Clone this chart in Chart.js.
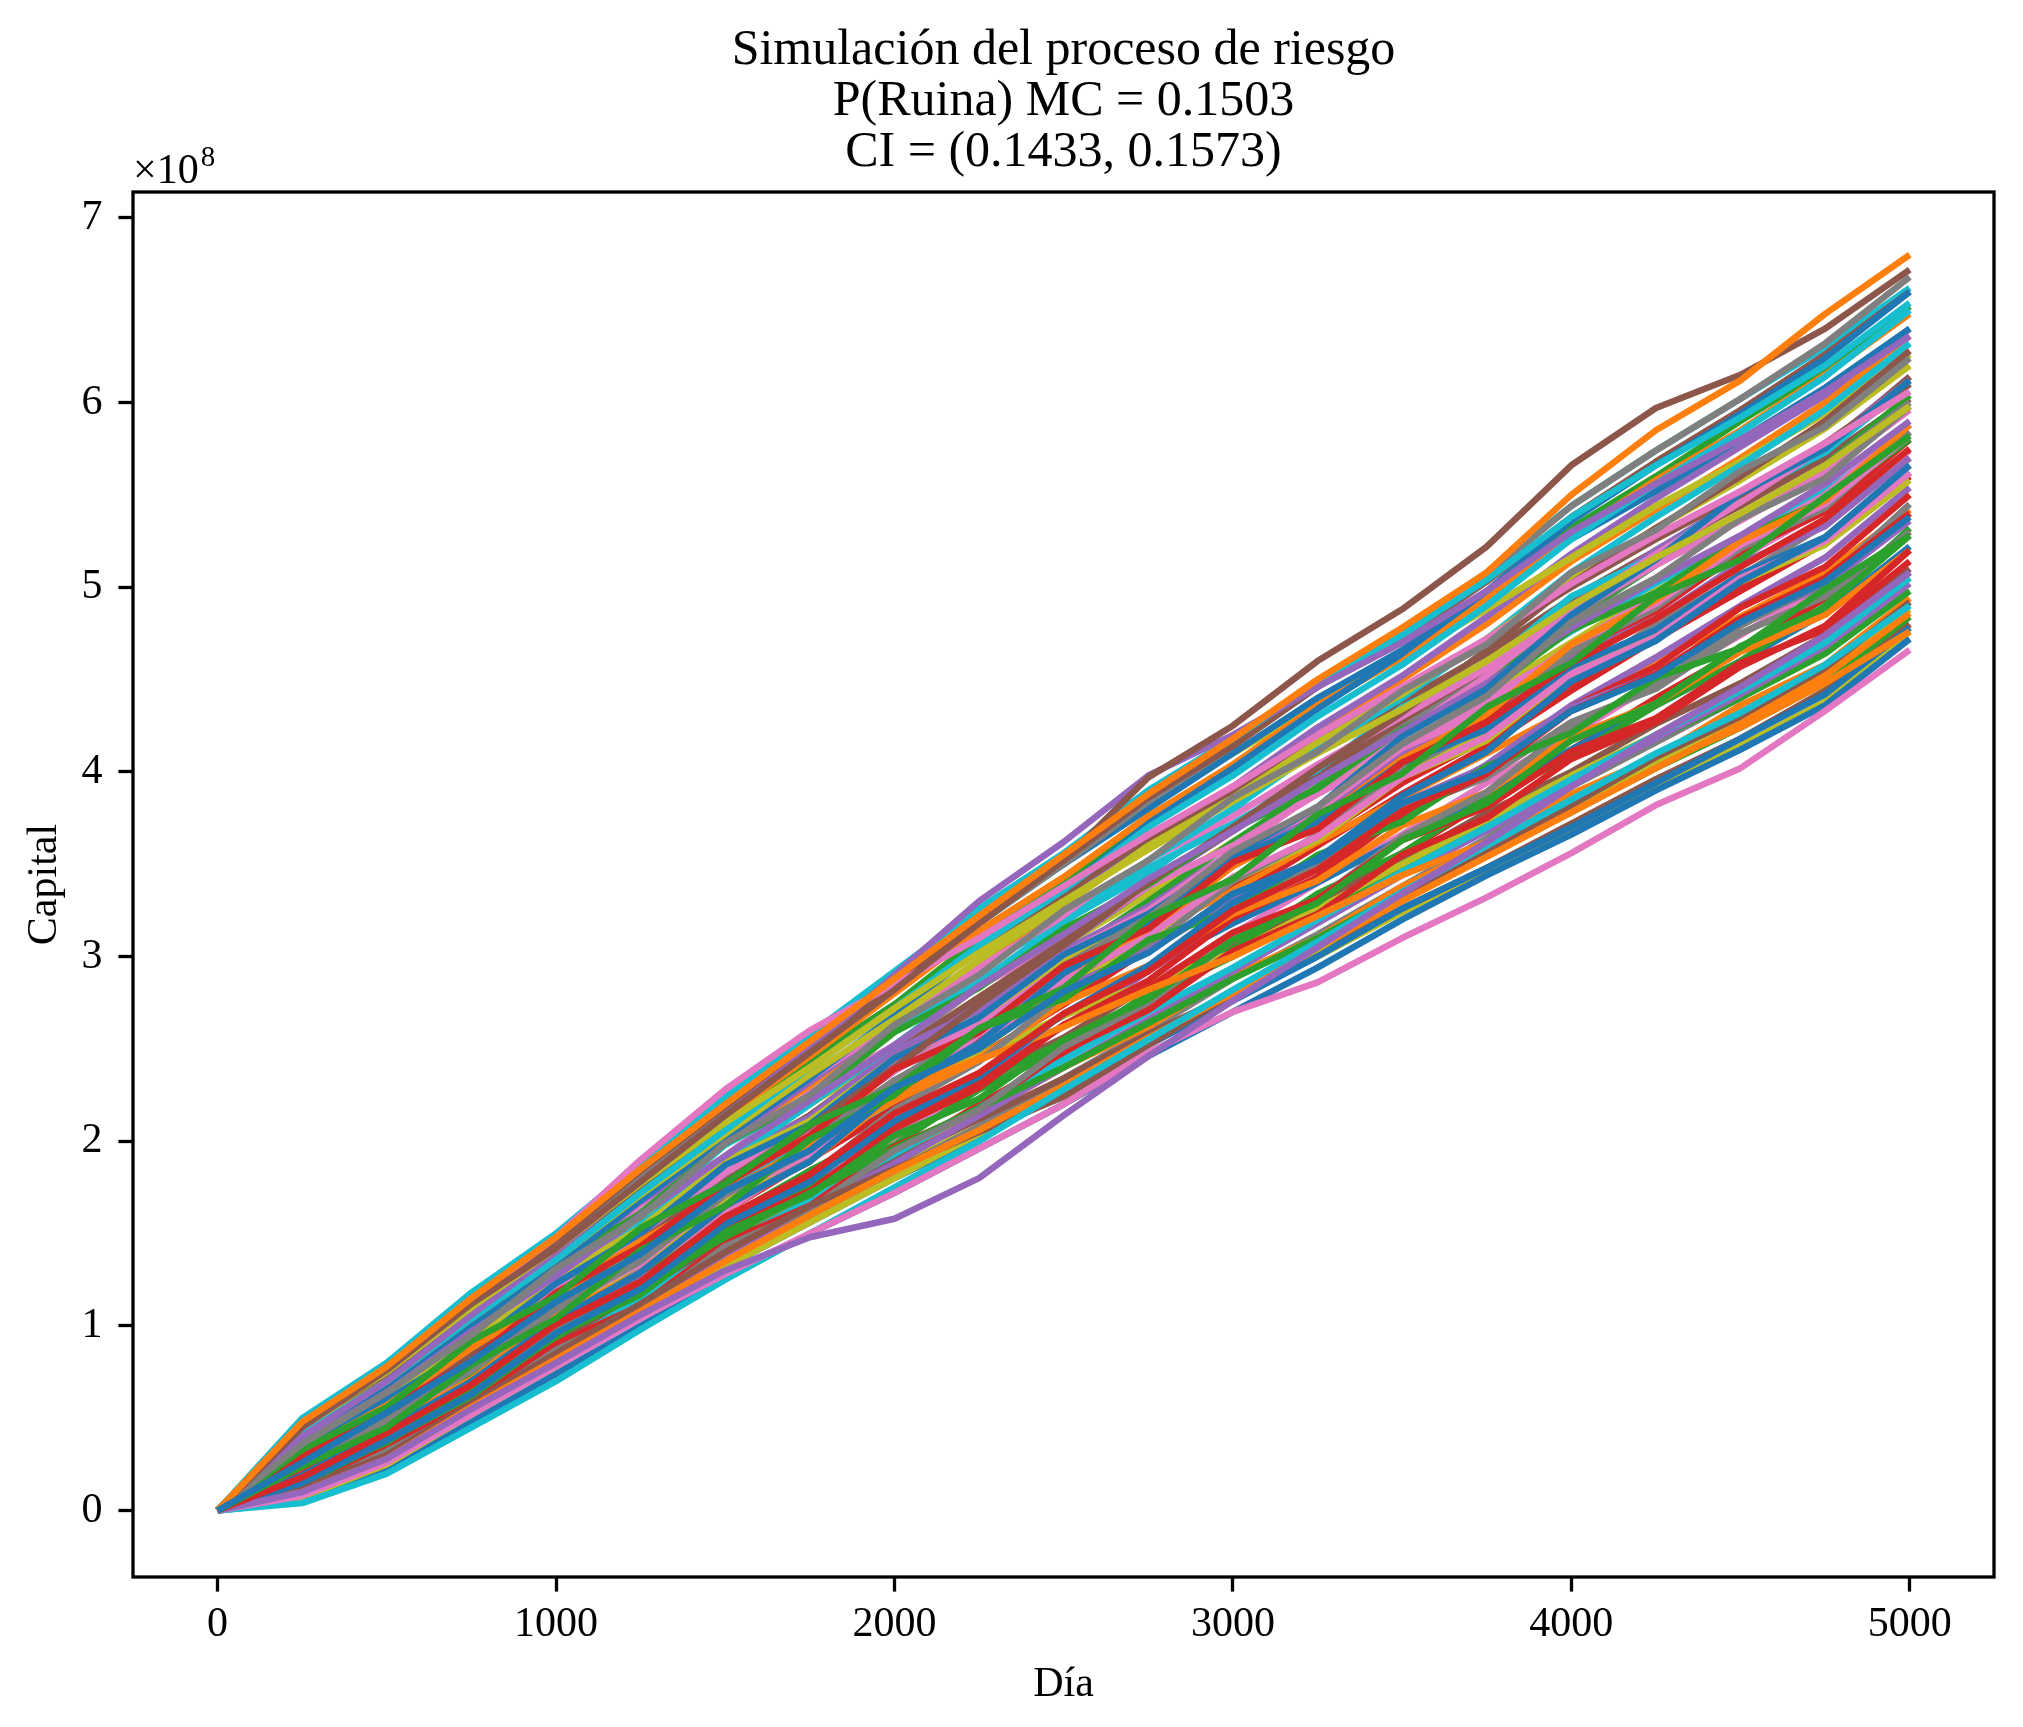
<!DOCTYPE html>
<html>
<head>
<meta charset="utf-8">
<script src="https://cdn.jsdelivr.net/npm/chart.js@4.4.1/dist/chart.umd.min.js"></script>
<style>
  html, body { margin: 0; padding: 0; background: #fff; }
  #chart { display: block; }
</style>
</head>
<body>
<canvas id="chart" width="2023" height="1727"></canvas>
<script>
// simulated capital paths, every 250 days (values in millions)
const days = [0, 250, 500, 750, 1000, 1250, 1500, 1750, 2000, 2250, 2500,
  2750, 3000, 3250, 3500, 3750, 4000, 4250, 4500, 4750, 5000];

const paths = [
  [0, 26, 53, 81, 113, 139, 173, 195, 229, 250, 281, 302, 334, 352, 383, 401, 433, 452, 481, 503, 538],
  [0, 48, 78, 115, 148, 185, 220, 254, 288, 322, 355, 388, 418, 450, 478, 508, 550, 585, 612, 648, 680],
  [0, 24, 45, 79, 104, 141, 165, 201, 225, 261, 283, 321, 342, 377, 399, 435, 459, 495, 515, 549, 582],
  [0, 18, 42, 68, 101, 124, 159, 182, 215, 237, 269, 292, 325, 347, 379, 399, 433, 453, 483, 505, 540],
  [0, 10, 28, 55, 80, 106, 130, 148, 158, 180, 214, 246, 276, 305, 334, 362, 392, 420, 446, 474, 508],
  [0, 45, 76, 112, 142, 178, 214, 248, 282, 318, 352, 397, 425, 460, 488, 522, 566, 597, 615, 640, 672],
  [0, 8, 26, 52, 78, 104, 128, 150, 172, 196, 220, 248, 270, 286, 310, 332, 356, 382, 402, 433, 466],
  [0, 36, 64, 95, 131, 159, 199, 225, 263, 290, 325, 352, 386, 411, 444, 469, 508, 531, 563, 587, 624],
  [0, 46, 75, 110, 142, 177, 210, 240, 272, 302, 330, 358, 384, 410, 434, 460, 490, 516, 540, 566, 598],
  [0, 4, 20, 45, 70, 98, 125, 150, 175, 200, 228, 255, 282, 308, 335, 360, 385, 410, 432, 458, 490],
  [0, 15, 38, 63, 96, 120, 155, 178, 211, 235, 269, 295, 329, 353, 387, 411, 449, 471, 503, 527, 566],
  [0, 10, 28, 56, 82, 108, 135, 160, 184, 206, 230, 256, 280, 305, 330, 354, 378, 402, 426, 452, 486],
  [0, 33, 56, 92, 116, 153, 177, 209, 229, 261, 277, 309, 325, 355, 373, 403, 421, 451, 467, 499, 528],
  [0, 29, 55, 81, 118, 143, 177, 203, 239, 259, 295, 315, 351, 369, 405, 427, 459, 483, 511, 537, 575],
  [0, 40, 70, 106, 140, 178, 214, 250, 290, 330, 362, 398, 420, 446, 470, 498, 530, 556, 580, 606, 636],
  [0, 12, 30, 58, 85, 112, 140, 165, 185, 205, 224, 252, 280, 305, 332, 356, 382, 408, 430, 456, 492],
  [0, 45, 76, 114, 148, 190, 228, 260, 285, 310, 338, 366, 392, 420, 446, 472, 502, 528, 552, 578, 606],
  [0, 24, 49, 76, 109, 135, 171, 195, 233, 259, 295, 321, 357, 381, 415, 441, 481, 505, 537, 559, 598],
  [0, 7, 25, 52, 78, 105, 132, 156, 180, 204, 228, 254, 280, 304, 332, 356, 382, 405, 428, 455, 488],
  [0, 41, 70, 104, 136, 172, 206, 240, 272, 306, 336, 370, 398, 430, 458, 490, 526, 556, 584, 614, 650],
  [0, 19, 44, 70, 103, 129, 165, 189, 227, 253, 291, 317, 355, 381, 419, 445, 485, 515, 551, 575, 612],
  [0, 32, 57, 88, 116, 146, 172, 198, 222, 244, 262, 282, 300, 322, 344, 362, 384, 404, 424, 448, 476],
  [0, 14, 38, 62, 95, 117, 151, 171, 203, 223, 255, 277, 309, 329, 363, 383, 417, 437, 468, 489, 528],
  [0, 20, 43, 68, 101, 123, 159, 179, 211, 231, 263, 283, 313, 331, 363, 381, 411, 429, 459, 477, 514],
  [0, 37, 64, 97, 127, 160, 192, 222, 252, 284, 312, 342, 368, 396, 422, 448, 478, 504, 528, 556, 590],
  [0, 28, 52, 84, 113, 146, 178, 208, 240, 274, 306, 340, 370, 402, 432, 466, 502, 532, 560, 590, 628],
  [0, 24, 48, 76, 109, 134, 171, 193, 229, 253, 287, 311, 343, 365, 397, 419, 453, 473, 505, 525, 562],
  [0, 10, 32, 56, 87, 109, 143, 163, 195, 217, 251, 275, 309, 331, 365, 389, 425, 447, 479, 503, 545],
  [0, 42, 70, 104, 136, 171, 204, 236, 266, 298, 328, 360, 386, 416, 442, 472, 504, 532, 558, 586, 620],
  [0, 50, 80, 118, 150, 188, 224, 258, 292, 326, 356, 390, 418, 448, 474, 504, 538, 566, 592, 620, 654],
  [0, 32, 60, 88, 123, 150, 187, 209, 245, 267, 301, 323, 353, 373, 405, 423, 457, 477, 507, 527, 562],
  [0, 21, 46, 71, 105, 129, 165, 189, 225, 251, 287, 313, 349, 373, 407, 431, 469, 493, 525, 547, 588],
  [0, 17, 37, 66, 94, 122, 148, 172, 196, 218, 240, 264, 288, 310, 334, 356, 378, 402, 424, 448, 484],
  [0, 12, 34, 58, 90, 111, 145, 165, 197, 217, 249, 271, 303, 323, 355, 375, 407, 427, 457, 479, 520],
  [0, 26, 51, 78, 112, 137, 173, 195, 229, 251, 283, 303, 333, 353, 383, 403, 435, 453, 481, 501, 536],
  [0, 43, 72, 107, 140, 174, 208, 240, 272, 304, 334, 364, 390, 418, 444, 472, 500, 526, 550, 578, 610],
  [0, 30, 57, 86, 120, 147, 183, 207, 243, 267, 301, 325, 357, 379, 413, 433, 469, 491, 523, 545, 582],
  [0, 17, 40, 65, 98, 121, 158, 181, 217, 243, 279, 305, 341, 365, 401, 425, 465, 489, 521, 543, 584],
  [0, 34, 62, 91, 126, 153, 189, 211, 245, 267, 299, 321, 351, 371, 401, 421, 453, 473, 503, 523, 558],
  [0, 12, 33, 60, 87, 115, 143, 168, 193, 218, 244, 270, 294, 320, 346, 370, 396, 420, 444, 470, 505],
  [0, 39, 66, 101, 132, 168, 202, 234, 268, 304, 336, 372, 402, 434, 464, 498, 536, 566, 594, 624, 660],
  [0, 26, 51, 78, 111, 137, 171, 193, 225, 245, 275, 295, 323, 341, 371, 389, 419, 437, 465, 485, 520],
  [0, 39, 68, 98, 133, 161, 199, 223, 259, 283, 315, 339, 369, 391, 423, 443, 477, 497, 527, 547, 580],
  [0, 15, 37, 62, 95, 117, 153, 173, 207, 229, 263, 287, 321, 343, 377, 399, 435, 457, 489, 511, 550],
  [0, 10, 29, 57, 83, 110, 138, 164, 188, 214, 240, 266, 292, 318, 344, 368, 394, 418, 442, 468, 502],
  [0, 48, 77, 114, 146, 184, 219, 252, 286, 322, 352, 386, 414, 446, 472, 503, 538, 568, 596, 626, 660],
  [0, 19, 41, 70, 99, 130, 162, 192, 224, 258, 290, 324, 356, 390, 420, 452, 488, 518, 546, 576, 612],
  [0, 46, 74, 111, 143, 180, 216, 250, 284, 318, 350, 384, 414, 446, 474, 506, 544, 574, 602, 632, 668],
  [0, 28, 52, 84, 112, 142, 170, 196, 222, 246, 268, 286, 302, 326, 350, 374, 398, 420, 444, 470, 505],
  [0, 32, 58, 91, 121, 155, 188, 220, 252, 286, 318, 352, 380, 412, 440, 472, 508, 538, 566, 596, 632],
  [0, 8, 27, 53, 79, 106, 132, 156, 180, 202, 226, 252, 276, 300, 326, 348, 370, 394, 418, 442, 478],
  [0, 45, 74, 110, 142, 178, 213, 246, 280, 314, 343, 376, 404, 436, 462, 494, 528, 558, 585, 615, 648],
  [0, 21, 44, 73, 101, 130, 158, 184, 208, 232, 254, 278, 300, 324, 348, 372, 394, 418, 440, 464, 498],
  [0, 24, 49, 76, 109, 135, 171, 195, 231, 255, 289, 315, 349, 373, 407, 429, 465, 487, 519, 541, 580],
  [0, 34, 63, 92, 127, 154, 191, 213, 249, 271, 303, 327, 357, 377, 409, 429, 463, 483, 513, 533, 570],
  [0, 15, 35, 63, 90, 117, 144, 168, 190, 212, 234, 258, 280, 302, 326, 348, 372, 396, 418, 444, 480],
  [0, 41, 69, 104, 135, 170, 204, 234, 264, 294, 322, 352, 376, 404, 430, 456, 486, 512, 536, 562, 596],
  [0, 30, 57, 85, 119, 145, 181, 201, 233, 253, 283, 303, 331, 349, 379, 397, 427, 445, 475, 495, 530],
  [0, 21, 46, 72, 105, 131, 167, 191, 225, 249, 283, 307, 341, 363, 397, 417, 453, 475, 505, 527, 566],
  [0, 37, 65, 96, 131, 159, 198, 223, 260, 286, 319, 345, 377, 401, 435, 457, 495, 517, 549, 573, 610],
  [0, 47, 78, 113, 147, 182, 220, 252, 288, 320, 350, 380, 410, 440, 466, 496, 526, 552, 580, 608, 640],
  [0, 11, 34, 58, 88, 113, 143, 166, 192, 214, 240, 262, 290, 310, 338, 360, 388, 408, 436, 458, 494],
  [0, 44, 70, 108, 138, 176, 208, 244, 274, 310, 340, 376, 402, 436, 462, 496, 532, 560, 590, 618, 652],
  [0, 25, 50, 80, 112, 140, 172, 198, 230, 256, 286, 312, 340, 364, 394, 418, 448, 474, 500, 526, 562],
  [0, 18, 37, 68, 94, 125, 150, 181, 206, 236, 262, 292, 322, 350, 378, 404, 436, 462, 490, 516, 554],
  [0, 31, 60, 89, 122, 152, 188, 214, 248, 278, 308, 340, 368, 398, 428, 456, 490, 516, 546, 574, 614],
  [0, 38, 62, 99, 126, 163, 192, 226, 252, 284, 308, 338, 360, 388, 412, 440, 466, 492, 516, 542, 574],
  [0, 7, 28, 52, 80, 106, 134, 158, 184, 208, 234, 260, 288, 312, 338, 364, 392, 416, 440, 468, 508],
  [0, 48, 79, 116, 149, 186, 222, 256, 290, 324, 354, 386, 410, 436, 462, 488, 516, 544, 568, 594, 626],
  [0, 45, 75, 110, 144, 180, 214, 248, 282, 318, 350, 386, 416, 448, 476, 508, 544, 574, 602, 630, 662],
  [0, 5, 22, 48, 74, 100, 126, 150, 172, 196, 220, 246, 270, 294, 320, 344, 366, 390, 412, 436, 472],
  [0, 30, 56, 86, 116, 148, 176, 206, 232, 260, 286, 312, 336, 362, 386, 410, 434, 460, 484, 508, 542],
  [0, 16, 33, 66, 90, 121, 146, 176, 198, 228, 250, 280, 304, 334, 356, 386, 408, 436, 460, 490, 532],
  [0, 21, 43, 74, 103, 133, 162, 190, 218, 246, 274, 304, 332, 360, 388, 414, 444, 472, 498, 524, 560],
  [0, 39, 66, 100, 132, 166, 200, 232, 264, 298, 328, 364, 392, 424, 452, 484, 518, 548, 576, 604, 640],
  [0, 20, 40, 71, 97, 129, 155, 184, 206, 234, 256, 284, 306, 330, 352, 378, 400, 426, 448, 474, 510],
  [0, 28, 54, 84, 115, 144, 178, 206, 238, 264, 296, 322, 354, 380, 410, 436, 468, 496, 524, 550, 588],
  [0, 35, 60, 95, 123, 160, 190, 222, 250, 284, 310, 342, 368, 398, 424, 454, 484, 512, 538, 566, 600],
  [0, 10, 31, 56, 84, 110, 138, 162, 186, 208, 232, 256, 278, 300, 324, 346, 368, 392, 414, 438, 476],
  [0, 42, 69, 105, 135, 172, 204, 236, 264, 294, 320, 348, 372, 398, 424, 448, 476, 502, 526, 552, 584],
  [0, 24, 46, 78, 106, 136, 164, 192, 218, 244, 268, 294, 318, 340, 364, 388, 412, 436, 460, 486, 522],
  [0, 38, 66, 100, 132, 166, 200, 230, 264, 296, 328, 360, 390, 420, 450, 480, 514, 542, 570, 600, 636],
  [0, 27, 53, 84, 113, 146, 176, 206, 238, 268, 300, 330, 362, 392, 420, 450, 482, 512, 538, 566, 604],
  [0, 10, 30, 57, 84, 112, 140, 166, 192, 220, 246, 274, 302, 330, 356, 384, 412, 440, 466, 494, 530],
  [0, 30, 55, 88, 118, 151, 182, 214, 244, 276, 306, 338, 368, 398, 428, 458, 490, 520, 548, 576, 614],
  [0, 46, 74, 110, 142, 178, 212, 244, 274, 304, 332, 360, 386, 412, 438, 464, 494, 520, 544, 570, 602],
  [0, 15, 36, 64, 91, 120, 148, 176, 202, 230, 256, 284, 312, 340, 366, 394, 420, 448, 474, 502, 540],
  [0, 21, 44, 74, 102, 134, 162, 194, 222, 252, 280, 310, 338, 366, 394, 422, 450, 480, 506, 534, 570],
  [0, 34, 61, 94, 124, 158, 188, 220, 248, 278, 306, 334, 362, 388, 414, 442, 470, 498, 522, 550, 584],
  [0, 26, 48, 81, 110, 142, 172, 202, 232, 262, 290, 322, 350, 380, 408, 436, 468, 496, 522, 550, 588],
];

const titleLines = ['Simulación del proceso de riesgo', 'P(Ruina) MC = 0.1503', 'CI = (0.1433, 0.1573)'];
const xTicks = [0, 1000, 2000, 3000, 4000, 5000];
const yTicks = [0, 100, 200, 300, 400, 500, 600, 700];

// matplotlib tab10 cycle
const palette = ['#1f77b4', '#ff7f0e', '#2ca02c', '#d62728', '#9467bd',
  '#8c564b', '#e377c2', '#7f7f7f', '#bcbd22', '#17becf'];

const serif = '"Liberation Serif", "Times New Roman", serif';
const lw = 3.3;

const datasets = paths.map((vals, i) => ({
  data: vals.map((v, j) => ({ x: days[j], y: v })),
  borderColor: palette[i % palette.length],
  borderWidth: 6.5,
  borderJoinStyle: 'round',
  pointRadius: 0,
  fill: false,
  tension: 0,
}));

const frame = {
  id: 'frame',
  afterDraw(chart) {
    const { ctx, chartArea: a } = chart;
    ctx.save();
    ctx.strokeStyle = '#000';
    ctx.lineWidth = lw;
    ctx.strokeRect(a.left, a.top, a.right - a.left, a.bottom - a.top);

    ctx.fillStyle = '#000';
    ctx.textAlign = 'center';
    ctx.textBaseline = 'alphabetic';
    ctx.font = '50px ' + serif;
    const cx = (a.left + a.right) / 2;
    titleLines.forEach((t, i) => ctx.fillText(t, cx, 64 + i * 51));

    // offset text of the y axis
    ctx.textAlign = 'left';
    ctx.font = '42px ' + serif;
    const base = '\u00d710';
    ctx.fillText(base, a.left, 183);
    const w = ctx.measureText(base).width;
    ctx.font = '29px ' + serif;
    ctx.fillText('8', a.left + w + 2, 166);
    ctx.restore();
  },
};

new Chart(document.getElementById('chart'), {
  type: 'line',
  data: { datasets },
  options: {
    responsive: false,
    devicePixelRatio: 1,
    animation: false,
    parsing: false,
    normalized: true,
    layout: { padding: { top: 192, right: 29, left: 0, bottom: 0 } },
    plugins: {
      legend: { display: false },
      tooltip: { enabled: false },
      title: { display: false },
    },
    scales: {
      x: {
        type: 'linear',
        min: -250,
        max: 5249,
        afterFit(scale) { scale.height = 150; },
        afterBuildTicks(scale) { scale.ticks = xTicks.map(v => ({ value: v })); },
        ticks: {
          color: '#000',
          font: { family: serif, size: 42 },
          padding: 8,
          maxRotation: 0,
          callback: v => String(v),
        },
        grid: { drawOnChartArea: false, drawTicks: true, tickLength: 14.6, tickWidth: lw, tickColor: '#000' },
        border: { display: false },
        title: {
          display: true,
          text: 'Día',
          color: '#000',
          font: { family: serif, size: 42 },
          padding: { top: 0, bottom: 17 },
        },
      },
      y: {
        type: 'linear',
        min: -36,
        max: 714,
        afterFit(scale) { scale.width = 133; },
        afterBuildTicks(scale) { scale.ticks = yTicks.map(v => ({ value: v })); },
        ticks: {
          color: '#000',
          font: { family: serif, size: 42 },
          padding: 16,
          callback: v => String(v / 100),
        },
        grid: { drawOnChartArea: false, drawTicks: true, tickLength: 14.6, tickWidth: lw, tickColor: '#000' },
        border: { display: false },
        title: {
          display: true,
          text: 'Capital',
          color: '#000',
          font: { family: serif, size: 42 },
          padding: { top: 20, bottom: 0 },
        },
      },
    },
  },
  plugins: [frame],
});
</script>
</body>
</html>
